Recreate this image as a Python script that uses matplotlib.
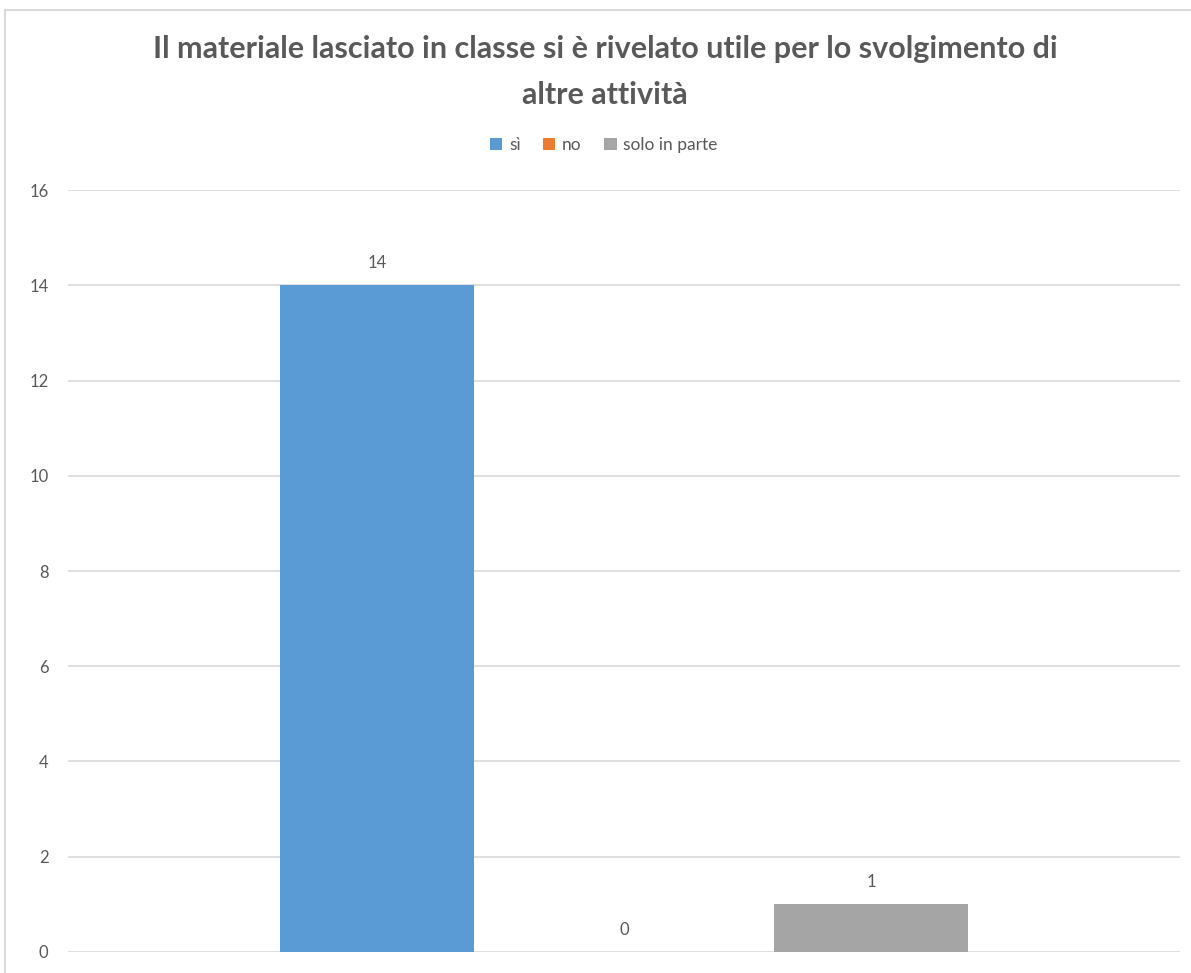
import matplotlib.pyplot as plt
from matplotlib.patches import Rectangle

# Dati del grafico
series = ['sì', 'no', 'solo in parte']
values = [14, 0, 1]
colors = ['#5B9BD5', '#ED7D31', '#A5A5A5']
yticks = [0, 2, 4, 6, 8, 10, 12, 14, 16]
title = 'Il materiale lasciato in classe si è rivelato utile per lo svolgimento di\naltre attività'

plt.rcParams['font.family'] = ['Lato', 'DejaVu Sans']

fig = plt.figure(figsize=(11.91, 9.73), dpi=100)
ax = fig.add_axes([0.0571, 0.0216, 0.9337, 0.7831])

positions = [-1, 0, 1]
bars = []
for pos, val, col, name in zip(positions, values, colors, series):
    b = ax.bar(pos, val, width=0.785, color=col, label=name, zorder=3)
    bars.append(b)
    ax.bar_label(b, labels=[str(val)], padding=10, fontsize=12, color='#595959')

ax.set_xlim(-2.25, 2.25)
ax.set_ylim(0, 16)
ax.set_yticks(yticks)
ax.set_xticks([])
ax.grid(axis='y', color='#D9D9D9', linewidth=1.2, zorder=0)
for s in ax.spines.values():
    s.set_visible(False)
ax.tick_params(axis='y', length=0, labelsize=12, labelcolor='#595959', pad=14)

fig.text(0.508, 0.926, title, ha='center', va='center', fontsize=22,
         fontweight='bold', color='#595959', linespacing=1.75)

fig.legend(loc='center', bbox_to_anchor=(0.507, 0.851), ncol=3, frameon=False,
           fontsize=12.5, labelcolor='#595959', handlelength=0.7, handleheight=0.7,
           handletextpad=0.4, columnspacing=1.3)

# cornice leggera del grafico
fig.patches.append(Rectangle((0.004, -0.01), 1.2, 1.0, transform=fig.transFigure,
                             fill=False, edgecolor='#D9D9D9', linewidth=1.5))

fig.savefig('out.png', dpi=100)
